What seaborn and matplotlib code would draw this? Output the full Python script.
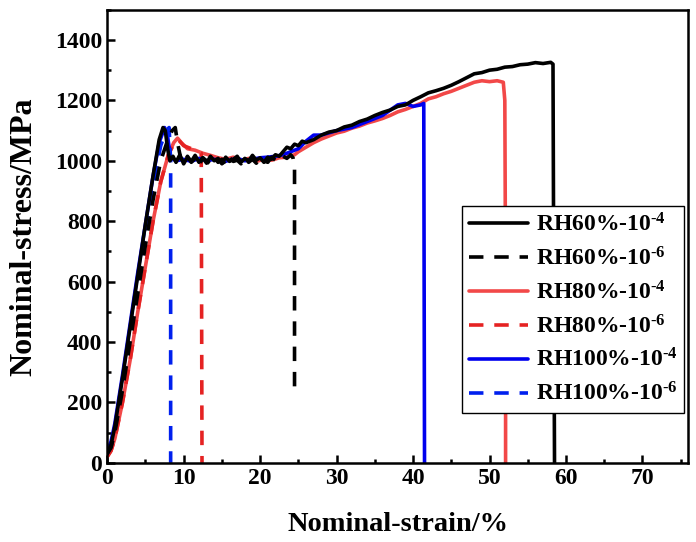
import matplotlib
matplotlib.use("Agg")
import pandas as pd
import seaborn as sns
from matplotlib import pyplot as plt
from matplotlib.ticker import MultipleLocator

# strain (%) / stress (MPa)
rh60_fast_strain = [0, 0.5, 1, 2, 3, 4, 5, 6, 6.8, 7.3, 7.6, 7.9, 8.2, 8.6, 9, 9.5, 10, 10.5, 11, 11.5,
                    12, 12.5, 13, 13.5, 14, 14.5, 15, 15.5, 16, 16.5, 17, 17.5, 18, 18.5, 19, 19.5, 20,
                    20.5, 21, 21.5, 22, 22.5, 23, 23.5, 24, 24.5, 25, 25.5, 26, 27, 28, 29, 30, 31, 32,
                    33, 34, 35, 36, 37, 38, 39, 40, 41, 42, 43, 44, 45, 46, 47, 48, 49, 50, 51, 52, 53,
                    54, 55, 56, 57, 58, 58.3, 58.4, 58.5]
rh60_fast_stress = [30, 60, 120, 280, 450, 620, 790, 950, 1070, 1110, 1100, 1040, 1000, 1015, 995, 1020,
                    990, 1012, 998, 1018, 995, 1010, 992, 1015, 1000, 1008, 990, 1012, 998, 1005, 1015, 995,
                    1008, 1000, 1018, 1002, 1010, 995, 1012, 1005, 1020, 1015, 1030, 1045, 1040, 1055,
                    1050, 1065, 1060, 1070, 1085, 1095, 1100, 1112, 1118, 1130, 1138, 1150, 1160, 1168,
                    1180, 1185, 1200, 1212, 1225, 1232, 1240, 1250, 1262, 1275, 1288, 1292, 1300, 1303,
                    1310, 1312, 1318, 1320, 1325, 1322, 1326, 1320, 600, 0]

rh60_slow_strain = [0, 0.5, 1, 2, 3, 4, 5, 6, 7, 7.8, 8.5, 8.9, 9.2, 9.6, 10, 10.5, 11, 11.5, 12, 12.5,
                    13, 13.5, 14, 14.5, 15, 15.5, 16, 16.5, 17, 17.5, 18, 18.5, 19, 19.5, 20, 20.5, 21,
                    21.5, 22, 22.5, 23, 23.5, 24, 24.3, 24.5, 24.5]
rh60_slow_stress = [30, 50, 100, 240, 400, 560, 720, 870, 1000, 1060, 1100, 1110, 1060, 1010, 990, 1015,
                    995, 1008, 985, 1010, 1000, 990, 1012, 995, 1005, 985, 1010, 998, 1002, 990, 1012,
                    995, 1005, 992, 1010, 1000, 995, 1012, 1002, 998, 1015, 1008, 1020, 1010, 980, 240]

rh80_fast_strain = [0, 0.5, 1, 2, 3, 4, 5, 6, 7, 8, 8.7, 9.2, 9.7, 10.5, 11.5, 12.5, 13.5, 14.5, 15.5,
                    16.5, 17.5, 18.5, 19.5, 20.5, 21.5, 22.5, 23.5, 24.5, 25, 26, 27, 28, 29, 30, 31, 32,
                    33, 34, 35, 36, 37, 38, 39, 40, 41, 42, 43, 44, 45, 46, 47, 48, 49, 50, 51, 51.8,
                    52.0, 52.1, 52.1]
rh80_fast_stress = [20, 40, 80, 200, 340, 500, 650, 800, 930, 1020, 1060, 1075, 1060, 1040, 1035, 1025,
                    1018, 1010, 1005, 1012, 1000, 1008, 998, 1005, 1002, 1010, 1012, 1020, 1030, 1045,
                    1060, 1072, 1082, 1092, 1098, 1108, 1115, 1125, 1132, 1140, 1150, 1162, 1170, 1180,
                    1190, 1205, 1212, 1222, 1230, 1240, 1250, 1260, 1265, 1262, 1265, 1260, 1200, 600, 0]

rh80_slow_strain = [0, 0.5, 1, 2, 3, 4, 5, 6, 7, 8, 8.7, 9.3, 10, 11, 12, 12.3, 12.4]
rh80_slow_stress = [20, 40, 80, 200, 340, 500, 650, 800, 930, 1020, 1055, 1070, 1050, 1040, 1030, 1025, 0]

rh100_fast_strain = [0, 0.5, 1, 2, 3, 4, 5, 6, 6.8, 7.5, 7.9, 8.3, 9, 10, 11, 12, 13, 14, 15, 16, 17,
                     18, 19, 20, 21, 22, 23, 24, 25, 26, 27, 28, 30, 32, 34, 36, 38, 39, 40, 41, 41.4,
                     41.5]
rh100_fast_stress = [40, 70, 130, 290, 460, 630, 790, 950, 1060, 1110, 1080, 1010, 1000, 1005, 998, 1008,
                     1000, 1005, 995, 1002, 1008, 1000, 1005, 1010, 1012, 1015, 1020, 1030, 1040, 1065,
                     1085, 1085, 1100, 1110, 1130, 1150, 1185, 1190, 1180, 1185, 1190, 0]

rh100_slow_strain = [0, 0.5, 1, 2, 3, 4, 5, 6, 7, 7.7, 8.1, 8.3, 8.3]
rh100_slow_stress = [30, 55, 110, 270, 440, 610, 770, 920, 1050, 1100, 1110, 1000, 0]

labels = ["RH60%-10$^{\\text{-4}}$", "RH60%-10$^{\\text{-6}}$", "RH80%-10$^{\\text{-4}}$",
          "RH80%-10$^{\\text{-6}}$", "RH100%-10$^{\\text{-4}}$", "RH100%-10$^{\\text{-6}}$"]

sns.set_style("ticks")
plt.rcParams["font.family"] = ["Liberation Serif", "DejaVu Serif"]
plt.rcParams["font.weight"] = "bold"
plt.rcParams["mathtext.fontset"] = "custom"
plt.rcParams["mathtext.rm"] = "Liberation Serif:bold"
plt.rcParams["mathtext.it"] = "Liberation Serif:bold"
plt.rcParams["mathtext.bf"] = "Liberation Serif:bold"
for key in ["text.color", "axes.labelcolor", "xtick.color", "ytick.color", "axes.edgecolor"]:
    plt.rcParams[key] = "black"

series = [
    (rh60_fast_strain, rh60_fast_stress, labels[0], "#000000", "-"),
    (rh60_slow_strain, rh60_slow_stress, labels[1], "#000000", "--"),
    (rh80_fast_strain, rh80_fast_stress, labels[2], "#f24848", "-"),
    (rh80_slow_strain, rh80_slow_stress, labels[3], "#e52222", "--"),
    (rh100_fast_strain, rh100_fast_stress, labels[4], "#0000ee", "-"),
    (rh100_slow_strain, rh100_slow_stress, labels[5], "#0020ee", "--"),
]
draw_order = [2, 3, 4, 5, 1, 0]

fig, ax = plt.subplots(figsize=(6.96, 5.42), dpi=100)
fig.subplots_adjust(left=0.154, right=0.989, bottom=0.146, top=0.982)

lines = {}
for i in draw_order:
    x, y, lab, col, ls = series[i]
    df = pd.DataFrame({"strain": x, "stress": y})
    sns.lineplot(data=df, x="strain", y="stress", sort=False, estimator=None,
                 color=col, linewidth=2.6, ax=ax, label=lab)
    line = ax.get_lines()[-1]
    if ls == "--":
        line.set_dashes((4, 3))
    lines[i] = line

ax.set_xlim(0, 76)
ax.set_ylim(0, 1500)
ax.xaxis.set_major_locator(MultipleLocator(10))
ax.xaxis.set_minor_locator(MultipleLocator(5))
ax.yaxis.set_major_locator(MultipleLocator(200))
ax.yaxis.set_minor_locator(MultipleLocator(100))
ax.tick_params(which="both", direction="in", width=1.8)
ax.tick_params(which="major", length=6, labelsize=17)
ax.tick_params(which="minor", length=3)
ax.set_yticks(range(0, 1401, 200))
for s in ax.spines.values():
    s.set_linewidth(1.8)

ax.set_xlabel("Nominal-strain/%", fontsize=20.5, fontweight="bold", labelpad=17)
ax.set_ylabel("Nominal-stress/MPa", fontsize=23, fontweight="bold", labelpad=12)

leg = ax.legend([lines[i] for i in range(6)], labels, loc="upper right",
                bbox_to_anchor=(0.993, 0.566), fontsize=17, frameon=True, fancybox=False,
                edgecolor="black", framealpha=1, handlelength=2.5, labelspacing=0.45,
                handletextpad=0.3, borderpad=0.3, borderaxespad=0)
leg.get_frame().set_linewidth(1.0)

plt.savefig("out.png", dpi=100)
